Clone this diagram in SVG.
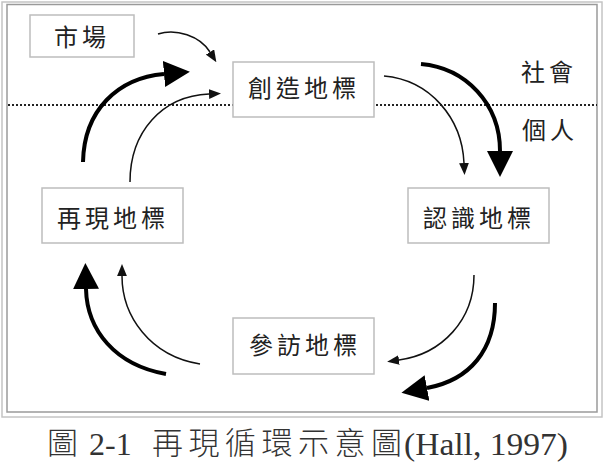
<svg xmlns="http://www.w3.org/2000/svg" width="614" height="462" viewBox="0 0 614 462">
<style>
.box{fill:#fff;stroke:#bdbdbd;stroke-width:1.5}
.lbl{font-family:"Noto Sans CJK TC","Noto Sans CJK SC",sans-serif;font-size:24px;fill:#222;letter-spacing:4px}
.thin{fill:none;stroke:#111;stroke-width:1.5;marker-end:url(#ah)}
.thick{fill:none;stroke:#000;stroke-width:4;marker-end:url(#AH)}
.cap{font-family:"Liberation Serif","Noto Sans CJK TC",serif;font-size:32px;fill:#333}
.capc{font-family:"Noto Sans CJK TC","Noto Sans CJK SC",serif;font-size:31px;fill:#333;font-weight:300}
</style>
<defs>
<marker id="ah" markerUnits="userSpaceOnUse" markerWidth="12" markerHeight="10" viewBox="0 0 11 9" refX="0" refY="4.5" orient="auto"><path d="M0,0 L11,4.5 L0,9 z" fill="#111"/></marker>
<marker id="AH" markerUnits="userSpaceOnUse" markerWidth="26" markerHeight="26" viewBox="0 0 24 24" refX="0" refY="12" orient="auto"><path d="M0,0 L24,12 L0,24 z" fill="#000"/></marker>
</defs>
<rect width="614" height="462" fill="#fff"/>
<rect x="2" y="2" width="600" height="415" fill="none" stroke="#c4c4c4" stroke-width="1.5"/>
<rect x="7" y="4.5" width="590" height="407.5" fill="none" stroke="#9a9a9a" stroke-width="1.5"/>
<line x1="8" y1="105" x2="597" y2="105" stroke="#222" stroke-width="2" stroke-dasharray="2 2"/>
<text class="lbl" x="521" y="81">社會</text>
<text class="lbl" x="522" y="139">個人</text>
<g id="connectors">
<path class="thin" d="M158,34 C176,28 200,36 210,52"/>
<path class="thick" d="M83,162 C84,110 118,78 164,74"/>
<path class="thin" d="M130,182 C130,132 162,96 209,94"/>
<path class="thin" d="M384,76 C430,80 462,118 464,163"/>
<path class="thick" d="M421,64 C466,68 500,104 500,151"/>
<path class="thin" d="M474,275 C474,320 442,354 399,360"/>
<path class="thick" d="M495,303 C495,350 470,380 427,388"/>
<path class="thin" d="M200,364 C150,356 122,316 122,276"/>
<path class="thick" d="M166,374 C115,365 87,330 86,289"/>
</g>
<g id="market"><rect class="box" x="30" y="15" width="104" height="42"/><text class="lbl" x="54" y="46">市場</text></g>
<g id="create"><rect class="box" x="233" y="62" width="141" height="55"/><text class="lbl" x="248" y="97">創造地標</text></g>
<g id="recognize"><rect class="box" x="408" y="188" width="141" height="55"/><text class="lbl" x="423" y="227">認識地標</text></g>
<g id="visit"><rect class="box" x="233" y="318" width="141" height="56"/><text class="lbl" x="249" y="354">參訪地標</text></g>
<g id="represent"><rect class="box" x="42" y="188" width="141" height="55"/><text class="lbl" x="57" y="227">再現地標</text></g>
<g id="caption">
<text class="capc" x="47" y="454">圖</text>
<text class="cap" x="89" y="455">2-1</text>
<text class="capc" x="152" y="454" textLength="250" lengthAdjust="spacing">再現循環示意圖</text>
<text class="cap" x="404" y="455" textLength="164" lengthAdjust="spacingAndGlyphs">(Hall, 1997)</text>
</g>
</svg>
